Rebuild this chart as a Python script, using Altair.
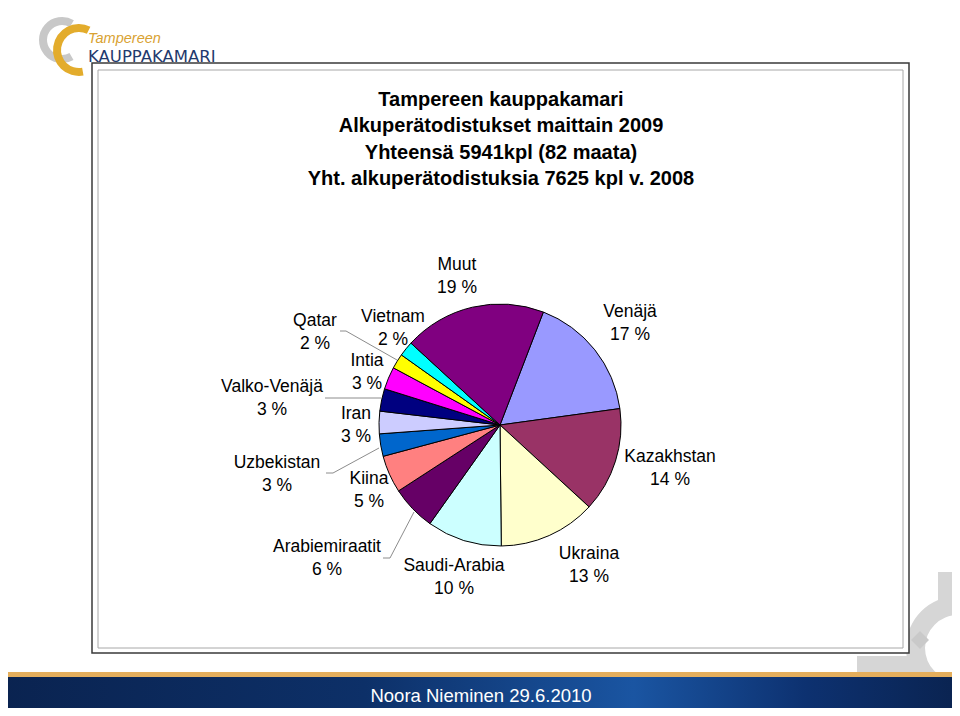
import math
import altair as alt
import pandas as pd

# ---------------- data ----------------
countries = ["Venäjä", "Kazakhstan", "Ukraina", "Saudi-Arabia", "Arabiemiraatit",
             "Kiina", "Uzbekistan", "Iran", "Valko-Venäjä", "Intia", "Qatar",
             "Vietnam", "Muut"]
shares = [17, 14, 13, 10, 6, 5, 3, 3, 3, 3, 2, 2, 19]
colors = ["#9999FF", "#993366", "#FFFFCC", "#CCFFFF", "#660066", "#FF8080",
          "#0066CC", "#CCCCFF", "#000080", "#FF00FF", "#FFFF00", "#00FFFF",
          "#800080"]

title_lines = ["Tampereen kauppakamari",
               "Alkuperätodistukset maittain 2009",
               "Yhteensä 5941kpl (82 maata)",
               "Yht. alkuperätodistuksia 7625 kpl v. 2008"]
footer_text = "Noora Nieminen 29.6.2010"
logo_top = "Tampereen"
logo_bottom = "KAUPPAKAMARI"

# ---------------- layout (page pixels) ----------------
OFF = 8  # page margin
W, H = 944, 700


def cx(v):
    return v - OFF


PIE_X, PIE_Y, PIE_R = 500, 425, 121
START_DEG = 21.0

# centre of the first text line of each label
label_pos = {
    "Muut": (457, 265), "Venäjä": (630, 312), "Kazakhstan": (670, 457),
    "Ukraina": (589, 554), "Saudi-Arabia": (454, 566),
    "Arabiemiraatit": (327, 547), "Kiina": (369, 479), "Uzbekistan": (277, 463),
    "Iran": (356, 414), "Valko-Venäjä": (272, 387), "Intia": (367, 361),
    "Qatar": (315, 321), "Vietnam": (393, 317),
}
leaders = [  # x1, y1, x2, y2
    (340, 331, 346, 331), (346, 331, 397, 360),
    (325, 398, 381, 398),
    (326, 473, 333, 473), (333, 473, 379, 448),
    (383, 558, 390, 558), (390, 558, 414, 512),
]

# ---------------- tables ----------------
pie_df = pd.DataFrame({"country": countries, "share": shares,
                       "idx": list(range(len(countries)))})
lab_df = pd.DataFrame({
    "text": [f"{c}\n{s} %" for c, s in zip(countries, shares)],
    "lx": [cx(label_pos[c][0]) for c in countries],
    "ly": [cx(label_pos[c][1]) for c in countries],
})
lead_df = pd.DataFrame([{"x1": cx(a), "y1": cx(b), "x2": cx(c), "y2": cx(d)}
                        for a, b, c, d in leaders])
one = pd.DataFrame({"k": [1]})

FONT = "Liberation Sans"


def rect(x1, y1, x2, y2, **kw):
    return alt.Chart(one).mark_rect(**kw).encode(
        x=alt.value(cx(x1)), x2=alt.value(cx(x2)),
        y=alt.value(cx(y1)), y2=alt.value(cx(y2)))


def ring(x, y, r0, r1, t0, t1, color):
    return alt.Chart(one).mark_arc(
        innerRadius=r0, outerRadius=r1, theta=math.radians(t0),
        theta2=math.radians(t1), color=color).encode(
        x=alt.value(cx(x)), y=alt.value(cx(y)))


def text(x, y, s, **kw):
    return alt.Chart(one).mark_text(**kw).encode(
        x=alt.value(cx(x)), y=alt.value(cx(y)), text=alt.value(s))


# ---------------- decorations ----------------
gear = [
    ring(958, 648, 33, 52, 0, 360, "#D6D6D6"),
    rect(938, 572, 960, 600, color="#D6D6D6"),
    rect(857, 656, 913, 672, color="#D6D6D6"),
    alt.Chart(one).mark_point(shape="diamond", filled=True, size=324,
                              color="#C9C9C9", opacity=1).encode(
        x=alt.value(cx(920)), y=alt.value(cx(640))),
]

bar = [
    rect(0, 672, 960, 677, color="#E4AE5C"),
    rect(0, 677, 960, 713, fill=alt.LinearGradient(
        gradient="linear", x1=0, x2=1, y1=0, y2=0,
        stops=[alt.GradientStop(color="#0A2350", offset=0),
               alt.GradientStop(color="#0D3068", offset=0.38),
               alt.GradientStop(color="#1A55A2", offset=0.66),
               alt.GradientStop(color="#0D3170", offset=0.84),
               alt.GradientStop(color="#0A2350", offset=1)])),
    text(481, 696, footer_text, color="white", fontSize=18.5,
         font=FONT, align="center", baseline="middle"),
]

logo_rings = [
    ring(62, 40, 15, 23, 150, 391, "#C8C8C8"),
    ring(79, 50, 18, 26, 170, 386, "#E3AC2C"),
]

box = [
    rect(92, 63, 909, 653, fill="white", stroke="#3A3A3A", strokeWidth=1.5),
    rect(98, 70, 903, 648, fill="white", stroke="#A8A8A8", strokeWidth=1),
]

logo_text = [
    text(88, 43, logo_top, color="#D9A232", fontSize=14.5, fontStyle="italic",
         font=FONT, align="left", baseline="alphabetic"),
    text(88, 62, logo_bottom, color="#1F3A6E", fontSize=16.5,
         font="DejaVu Sans", align="left", baseline="alphabetic"),
]

title = text(501, 100, "\n".join(title_lines), fontSize=20,
             fontWeight="bold", font=FONT, lineBreak="\n", lineHeight=26.3,
             align="center", baseline="middle", color="black")

# ---------------- pie ----------------
start = math.radians(START_DEG)
pie = alt.Chart(pie_df).mark_arc(outerRadius=PIE_R, stroke="black",
                                  strokeWidth=1).encode(
    theta=alt.Theta("share:Q", stack=True,
                    scale=alt.Scale(range=[start, start + 2 * math.pi])),
    order=alt.Order("idx:Q", sort="ascending"),
    color=alt.Color("country:N", legend=None,
                    scale=alt.Scale(domain=countries, range=colors)),
    x=alt.value(cx(PIE_X)), y=alt.value(cx(PIE_Y)),
)

leader_lines = alt.Chart(lead_df).mark_rule(color="#8C8C8C",
                                            strokeWidth=1).encode(
    x=alt.X("x1:Q", scale=None, axis=None),
    y=alt.Y("y1:Q", scale=None, axis=None),
    x2="x2:Q", y2="y2:Q")

labels = alt.Chart(lab_df).mark_text(
    fontSize=17.5, font=FONT, lineBreak="\n", lineHeight=23,
    align="center", baseline="middle", color="black").encode(
    x=alt.X("lx:Q", scale=None, axis=None),
    y=alt.Y("ly:Q", scale=None, axis=None),
    text="text:N")

chart = alt.layer(*gear, *bar, *logo_rings, *box, *logo_text, title, pie,
                  leader_lines, labels).properties(
    width=W, height=H, padding=0, background="white",
    autosize=alt.AutoSizeParams(type="none"),
).resolve_scale(theta="independent", color="independent").configure_view(
    strokeWidth=0, stroke="transparent")

chart.save("out.html", embed_options={"renderer": "svg", "actions": False})
